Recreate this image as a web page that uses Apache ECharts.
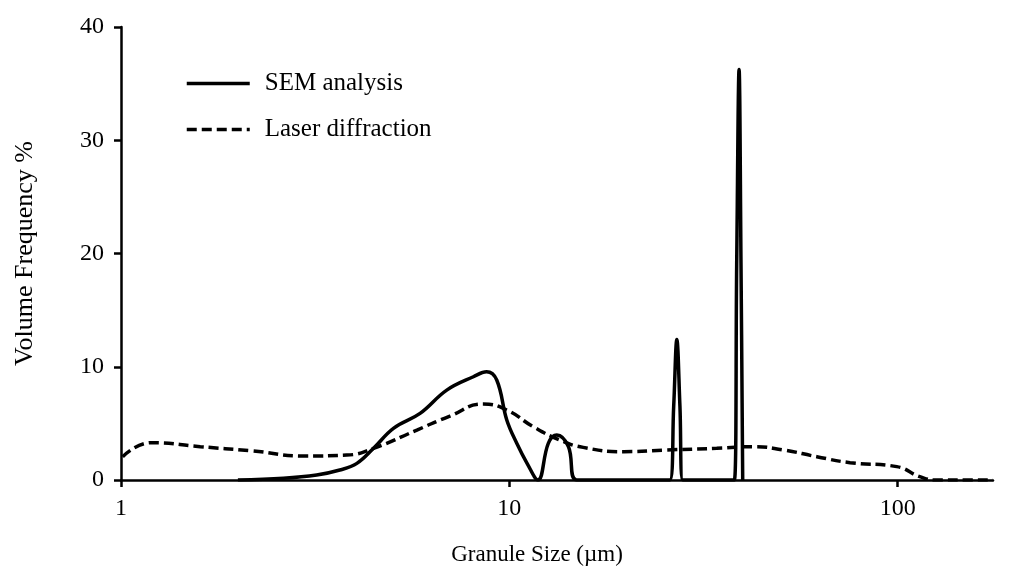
<!DOCTYPE html>
<html>
<head>
<meta charset="utf-8">
<script src="https://cdn.jsdelivr.net/npm/echarts@6/dist/echarts.min.js"></script>
<style>
html,body{margin:0;padding:0;background:#fff;}
#chart{width:1012px;height:572px;}
</style>
</head>
<body>
<div id="chart"></div>
<script>
// Granule size (µm) and volume frequency (%)
const semSize = [2.0, 2.62, 3.19, 3.66, 4.05, 4.47, 5.03, 5.89, 6.9, 8.08, 8.74, 9.28, 9.85, 10.45, 11.1, 11.85,
  12.6, 13.25, 14.2, 14.9, 20.0, 25.9, 26.5, 27.0, 27.5, 27.97, 33.0, 37.97, 38.5, 39.05, 39.5, 39.9];
const semFreq = [0, 0.15, 0.44, 0.88, 1.47, 2.8, 4.56, 5.88, 7.94, 9.12, 9.56, 8.83, 5.3, 3.24, 1.5, 0,
  3.24, 3.97, 2.94, 0, 0, 0, 6.5, 12.4, 6.5, 0, 0, 0, 19, 36.25, 19, 0];

const laserSize = [1.01, 1.2, 1.6, 2.15, 3.0, 3.81, 4.47, 5.78, 7.03, 8.57, 9.85, 11.53, 13.5, 15.5, 19.7,
  25.4, 34.2, 42.5, 50.8, 61.9, 75.4, 99.5, 114, 126, 150, 176];
const laserFreq = [2.06, 3.3, 2.94, 2.59, 2.12, 2.2, 2.8, 4.41, 5.65, 6.7, 6.18, 4.7, 3.53, 2.88, 2.5,
  2.65, 2.8, 2.94, 2.65, 2.06, 1.53, 1.18, 0.3, 0, 0, 0];

const xTicks = [1, 10, 100];
const yTicks = [0, 10, 20, 30, 40];

const semData = semSize.map((s, i) => [s, semFreq[i]]);
const laserData = laserSize.map((s, i) => [s, laserFreq[i]]);

const font = 'Liberation Serif';
const chart = echarts.init(document.getElementById('chart'));
chart.setOption({
  animation: false,
  backgroundColor: '#fff',
  grid: { left: 121, right: 19, top: 27, bottom: 92, containLabel: false },
  legend: {
    left: 185, top: 71, orient: 'vertical', padding: 0,
    itemWidth: 63, itemHeight: 24, itemGap: 21,
    itemStyle: { opacity: 0 },
    lineStyle: { width: 3.5 },
    textStyle: { fontFamily: font, fontSize: 25, lineHeight: 24, color: '#000', padding: [0, 0, 0, 10] },
    data: ['SEM analysis', 'Laser diffraction']
  },
  xAxis: {
    type: 'log', logBase: 10, min: 1, max: 176,
    name: 'Granule Size (µm)', nameLocation: 'middle', nameGap: 63,
    nameTextStyle: { fontFamily: font, fontSize: 23, color: '#000', padding: [0, 40, 0, 0] },
    axisLine: { lineStyle: { color: '#000', width: 2.5 } },
    axisTick: { show: true, length: 7, inside: false, lineStyle: { color: '#000', width: 2.5 }, customValues: xTicks },
    axisLabel: { fontFamily: font, fontSize: 24, color: '#000', margin: 17, customValues: xTicks },
    splitLine: { show: false }, minorTick: { show: false }
  },
  yAxis: {
    type: 'value', min: 0, max: 40, interval: 10,
    name: 'Volume Frequency %', nameLocation: 'middle', nameGap: 83, nameRotate: 90,
    nameTextStyle: { fontFamily: font, fontSize: 26, color: '#000' },
    axisLine: { show: true, lineStyle: { color: '#000', width: 2.5 } },
    axisTick: { show: true, length: 7, lineStyle: { color: '#000', width: 2.5 }, customValues: yTicks },
    axisLabel: { fontFamily: font, fontSize: 24, color: '#000', margin: 17, customValues: yTicks },
    splitLine: { show: false }
  },
  series: [
    {
      name: 'SEM analysis', type: 'line', data: semData, symbol: 'none', smooth: 0.4,
      lineStyle: { color: '#000', width: 3.5 }, itemStyle: { color: '#000' }
    },
    {
      name: 'Laser diffraction', type: 'line', data: laserData, symbol: 'none', smooth: 0.5,
      lineStyle: { color: '#000', width: 3.5, type: [10, 5] }, itemStyle: { color: '#000' }
    }
  ]
});
</script>
</body>
</html>
